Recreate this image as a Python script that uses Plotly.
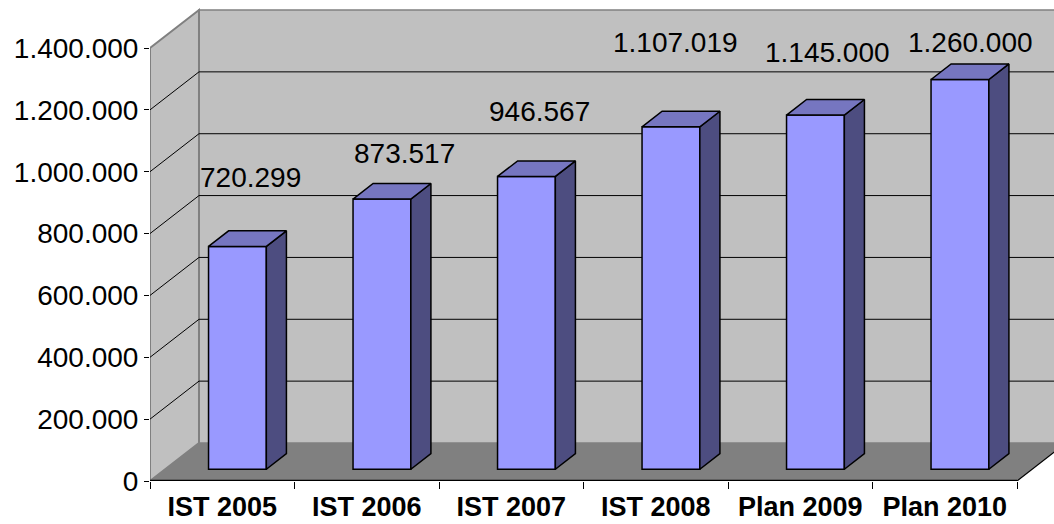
import plotly.graph_objects as go

categories = ["IST 2005", "IST 2006", "IST 2007", "IST 2008", "Plan 2009", "Plan 2010"]
values = [720299, 873517, 946567, 1107019, 1145000, 1260000]
y_ticks = [0, 200000, 400000, 600000, 800000, 1000000, 1200000, 1400000]

# fake 3d geometry, in data units
wall_dx = 0.339
wall_dy = 122860
bar_front = 0.31
bar_depth = 0.41
bar_width = 0.4
y_max = 1400000
y_top = 1555196
x_right = 5.756

# data label nudges (px), Excel put them a bit all over the place
label_dx = [13.5, 23, 13.5, 5, 12.5, 11]
label_dy = [68.5, 46, 64.5, 84, 63, 36.6]

FRONT = "#9999FF"
TOP = "#7676C0"
SIDE = "#4D4D80"
WALL = "#C0C0C0"
FLOOR = "#808080"

base = bar_front * wall_dy
ddx = bar_depth * wall_dx
ddy = bar_depth * wall_dy
xs = [i + bar_front * wall_dx for i in range(len(values))]

side_x, side_y, top_x, top_y = [], [], [], []
for x, v in zip(xs, values):
    xl = x - bar_width / 2
    xr = x + bar_width / 2
    h = base + v
    side_x += [xr, xr + ddx, xr + ddx, xr, xr, None]
    side_y += [base, base + ddy, h + ddy, h, base, None]
    top_x += [xl, xr, xr + ddx, xl + ddx, xl, None]
    top_y += [h, h, h + ddy, h + ddy, h, None]

fig = go.Figure()
fig.add_trace(go.Bar(
    x=xs, y=values, base=base, width=bar_width,
    marker=dict(color=FRONT, line=dict(color="black", width=1.5)),
    hoverinfo="skip",
))
fig.add_trace(go.Scatter(
    x=side_x, y=side_y, mode="lines", fill="toself", fillcolor=SIDE,
    line=dict(color="black", width=1.5), hoverinfo="skip",
))
fig.add_trace(go.Scatter(
    x=top_x, y=top_y, mode="lines", fill="toself", fillcolor=TOP,
    line=dict(color="black", width=1.5), hoverinfo="skip",
))

x0 = -0.5
x1 = len(categories) - 0.5
shapes = [
    # back wall
    dict(type="rect", x0=x0 + wall_dx, x1=x1 + 2, y0=wall_dy, y1=y_max + wall_dy,
         fillcolor=WALL, line=dict(color=FLOOR, width=1.5), layer="below"),
    # left wall
    dict(type="path",
         path=f"M {x0},0 L {x0},{y_max} L {x0 + wall_dx},{y_max + wall_dy} L {x0 + wall_dx},{wall_dy} Z",
         fillcolor=WALL, line=dict(color=FLOOR, width=2), layer="below"),
    # floor
    dict(type="path",
         path=f"M {x0},0 L {x1},0 L {x1 + wall_dx},{wall_dy} L {x0 + wall_dx},{wall_dy} Z",
         fillcolor=FLOOR, line=dict(width=0), layer="below"),
    dict(type="line", x0=x0, x1=x1, y0=0, y1=0, line=dict(color="black", width=2.5), layer="below"),
    dict(type="line", x0=x1, x1=x1 + wall_dx, y0=0, y1=wall_dy, line=dict(color="black", width=1.2), layer="below"),
]
for t in y_ticks[1:-1]:
    shapes.append(dict(type="line", x0=x0 + wall_dx, x1=x1 + 2, y0=t + wall_dy, y1=t + wall_dy,
                       line=dict(color="black", width=1), layer="below"))
    shapes.append(dict(type="line", x0=x0, x1=x0 + wall_dx, y0=t, y1=t + wall_dy,
                       line=dict(color="black", width=1), layer="below"))

annotations = []
for i, v in enumerate(values):
    annotations.append(dict(
        x=xs[i], y=base + v, text=f"{v:,}".replace(",", "."),
        showarrow=False, xshift=label_dx[i], yshift=label_dy[i],
        font=dict(size=28, color="black"),
    ))

fig.update_layout(
    width=1054, height=524,
    margin=dict(l=150, r=0, t=0, b=43),
    plot_bgcolor="white", paper_bgcolor="white",
    font=dict(family="Liberation Sans, Arial, sans-serif", size=28, color="black"),
    separators=",.",
    showlegend=False,
    shapes=shapes,
    annotations=annotations,
)
fig.update_xaxes(
    range=[x0, x_right], tickvals=list(range(len(categories))), ticktext=categories,
    ticks="", showgrid=False, zeroline=False, showline=False, automargin=False,
    tickfont=dict(size=27, weight="bold"), ticklabelstandoff=7,
    minor=dict(tickvals=[i - 0.5 for i in range(len(categories) + 1)], ticks="outside",
               ticklen=7, tickcolor="black", tickwidth=1.2, showgrid=False),
)
fig.update_yaxes(
    range=[0, y_top], tickvals=y_ticks, tickformat=",d", automargin=False,
    ticks="outside", ticklen=5, tickcolor="black", tickwidth=1.2,
    showgrid=False, zeroline=False, showline=False,
)

fig.write_html(
    "out.html",
    config={"displayModeBar": False},
    post_script="document.body.style.margin='0';document.body.style.overflow='hidden';",
)
